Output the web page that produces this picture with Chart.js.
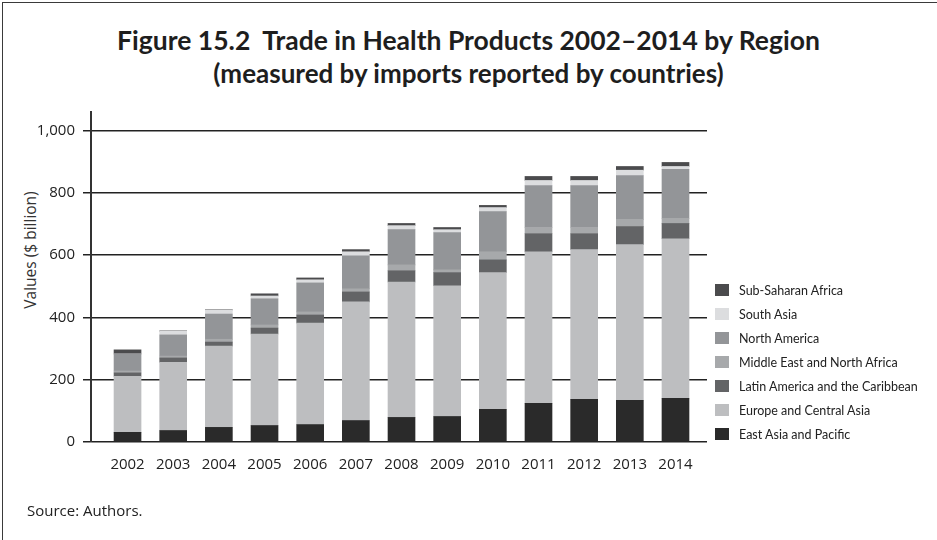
<!DOCTYPE html>
<html>
<head>
<meta charset="utf-8">
<script src="https://cdn.jsdelivr.net/npm/chart.js@4/dist/chart.umd.min.js"></script>
<style>
  html, body { margin: 0; padding: 0; background: #fff; }
  #wrap { position: relative; width: 937px; height: 540px; overflow: hidden; }
  #frame { position: absolute; left: 2px; top: 2px; right: -10px; bottom: -10px;
           border-left: 1.5px solid #3a3a3a; border-top: 1.5px solid #3a3a3a; }
  .title { position: absolute; left: 0; width: 937px; text-align: center;
           font-family: Lato, sans-serif; font-weight: bold; color: #1e1e1e; white-space: nowrap; }
  #t1 { top: 25px; font-size: 26.5px; line-height: 30px; }
  #t2 { top: 58px; font-size: 26px; line-height: 30px; }
  #ytitle { position: absolute; left: 30px; top: 250px; transform: translate(-50%, -50%) rotate(-90deg);
            font-family: "Open Sans", sans-serif; font-size: 15.5px; color: #333; white-space: nowrap; }
  #legend { position: absolute; left: 715px; top: 278px; font-family: Lato, sans-serif;
            font-size: 12.5px; color: #222; }
  #legend div { height: 24px; display: flex; align-items: center; white-space: nowrap; }
  #legend span.box { width: 14px; height: 12px; margin-right: 10px; display: inline-block; }
  #source { position: absolute; left: 27px; top: 500px; font-family: "Open Sans", sans-serif;
            font-size: 15px; color: #222; }
  canvas { position: absolute; left: 0; top: 0; }
</style>
</head>
<body>
<div id="wrap">
  <div id="frame"></div>
  <div class="title" id="t1">Figure 15.2&nbsp;&nbsp;Trade in Health Products 2002–2014 by Region</div>
  <div class="title" id="t2">(measured by imports reported by countries)</div>
  <div id="ytitle">Values ($ billion)</div>
  <canvas id="chartRegiones" width="937" height="540"></canvas>
  <div id="legend"></div>
  <div id="source">Source: Authors.</div>
</div>
<script>
// años y valores (US$ mil millones)
const years = [2002, 2003, 2004, 2005, 2006, 2007, 2008, 2009, 2010, 2011, 2012, 2013, 2014];
const eastAsia = [31, 37, 47, 53, 56, 69, 79, 82, 105, 124, 137, 134, 140];
const europeCentralAsia = [180, 219, 261, 294, 326, 381, 435, 420, 439, 487, 481, 500, 513];
const latinAmerica = [11, 14, 13, 19, 26, 32, 36, 42, 41, 58, 51, 58, 49];
const middleEast = [6, 6, 9, 10, 10, 10, 19, 9, 26, 20, 20, 23, 16];
const northAmerica = [54, 68, 81, 84, 93, 106, 113, 120, 129, 135, 135, 141, 158];
const southAsia = [1, 12, 13, 9, 10, 13, 13, 9, 13, 16, 16, 17, 9];
const subSaharan = [13, 1, 1, 7, 6, 7, 7, 7, 7, 13, 13, 12, 13];
const yTicks = [0, 200, 400, 600, 800, 1000];

const series = [
    { label: 'East Asia and Pacific', values: eastAsia, color: '#2a2a2a' },
    { label: 'Europe and Central Asia', values: europeCentralAsia, color: '#bdbec0' },
    { label: 'Latin America and the Caribbean', values: latinAmerica, color: '#636466' },
    { label: 'Middle East and North Africa', values: middleEast, color: '#a7a9ab' },
    { label: 'North America', values: northAmerica, color: '#939598' },
    { label: 'South Asia', values: southAsia, color: '#dcdddf' },
    { label: 'Sub-Saharan Africa', values: subSaharan, color: '#4b4b4d' }
];

const tickFont = { family: '"Open Sans", sans-serif', size: 15 };

const chart = new Chart(document.getElementById('chartRegiones'), {
    type: 'bar',
    data: {
        datasets: series.map(s => ({
            label: s.label,
            data: s.values.map((v, i) => ({ x: years[i], y: v })),
            backgroundColor: s.color,
            borderWidth: 0,
            barThickness: 27
        }))
    },
    options: {
        responsive: false,
        animation: false,
        layout: { padding: { top: 112, right: 230, left: 0, bottom: 0 } },
        plugins: { legend: { display: false }, tooltip: { enabled: false } },
        scales: {
            x: {
                type: 'linear',
                stacked: true,
                offset: false,
                min: 2001.2,
                max: 2014.69,
                grid: { display: false },
                border: { display: false },
                afterBuildTicks: s => { s.ticks = years.map(v => ({ value: v })); },
                afterFit: s => { s.height = 98; },
                ticks: { callback: v => String(v), color: '#222', font: tickFont, padding: 6, maxRotation: 0, autoSkip: false }
            },
            y: {
                stacked: true,
                min: 0,
                max: 1060,
                grid: { color: '#222', lineWidth: 1.5, tickLength: 8 },
                border: { display: true, color: '#333', width: 2 },
                afterBuildTicks: s => { s.ticks = yTicks.map(v => ({ value: v })); },
                afterFit: s => { s.width = 91; },
                ticks: { color: '#222', font: tickFont, padding: 8 }
            }
        }
    }
});

// leyenda en orden inverso (de arriba hacia abajo)
document.getElementById('legend').innerHTML = series.slice().reverse().map(s => `
    <div><span class="box" style="background:${s.color}"></span>${s.label}</div>
`).join('');
</script>
</body>
</html>
